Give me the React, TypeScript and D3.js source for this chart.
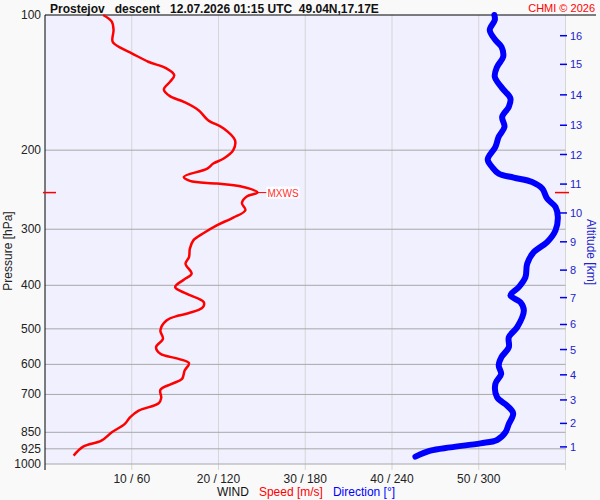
import * as d3 from "d3";

// speed profile: [pressure hPa, speed m/s]
const speedProfile: [number, number][] = [
  [100, 6.7], [103.5, 7.7], [108, 7.9], [114.7, 7.8], [118.7, 8.85], [121.7, 10.0],
  [127.1, 11.9], [131.5, 14.0], [136.1, 14.9], [140.9, 14.4], [146.5, 13.7], [151.6, 14.4],
  [156.1, 16.0], [162.9, 17.7], [171.5, 18.8], [178.9, 20.6], [190, 21.9], [200, 21.7],
  [208.8, 20.6], [214.2, 19.4], [219.8, 18.7], [229.4, 16.0], [234.2, 16.7], [237.4, 19.8],
  [240.7, 22.5], [248.6, 24.5], [253.3, 23.3], [262.2, 22.7], [272.2, 23.1], [282.6, 21.7],
  [294.1, 19.8], [305.9, 18.3], [317.6, 17.1], [331.4, 16.7], [346, 16.6], [358, 16.2],
  [376.9, 16.9], [388.6, 16.0], [403.7, 15.0], [417.6, 16.3], [436, 18.3], [447.4, 18.2],
  [462.8, 16.3], [466.9, 15.4], [479, 14.0], [504.2, 13.3], [526.2, 13.6], [549.4, 12.8],
  [568.3, 13.3], [583.1, 15.4], [596.4, 16.6], [619.3, 16.1], [646.2, 15.8], [663, 14.6],
  [683.8, 13.3], [712.4, 13.4], [732.5, 13.1], [760.5, 10.8], [787.1, 9.8], [814.2, 9.2],
  [850, 7.7], [887.1, 6.5], [914.9, 4.4], [958.2, 3.3],
];

// direction profile: [pressure hPa, direction deg]
const directionProfile: [number, number][] = [
  [100, 310.8], [102.6, 311.1], [108, 307.6], [113.7, 311.5], [117.7, 315.7], [123.9, 316.9],
  [130.4, 312.7], [137.3, 311.1], [145.5, 316.2], [153.4, 321.9], [160.2, 320.8], [168.6, 316.2],
  [177.5, 317.8], [186.8, 313.8], [196.7, 311.5], [209.8, 306.2], [218, 309.2], [225.5, 313.8],
  [230.2, 324.2], [235.4, 336.9], [243.5, 343.9], [256.4, 347.3], [267.7, 353.1], [281.8, 354.7],
  [301.7, 353.1], [320.4, 347.3], [337.3, 338.1], [358, 333.5], [383.5, 332.3], [403.7, 327.7],
  [421.3, 321.9], [436, 328.8], [455, 331.2], [495.7, 326.6], [521.9, 320.8], [549.4, 320.8],
  [578.4, 315.7], [603.4, 313.8], [629.8, 315.5], [663, 311.5], [710.2, 312.7], [741.2, 319.6],
  [771.1, 323.8], [814.2, 320.8], [850, 318.5], [884, 312.7], [899.5, 301.2], [918.2, 280.4],
  [933.8, 266.5], [963, 256.2],
];

const pressureTicks = [100, 200, 300, 400, 500, 600, 700, 850, 925, 1000];
const speedTicks = [10, 20, 30, 40, 50];
const directionTicks = [60, 120, 180, 240, 300];

// altitude km -> pressure hPa at that level in this sounding
const altitudeKm = [1, 2, 3, 4, 5, 6, 7, 8, 9, 10, 11, 12, 13, 14, 15, 16];
const altitudePressure = [916, 812, 720, 633, 556, 489, 426, 370, 320, 276, 238, 204.5, 176, 150.6, 128.8, 111.2];

const title = "Prostejov   descent   12.07.2026 01:15 UTC  49.04N,17.17E";
const font = "'Liberation Sans', Arial, sans-serif";

export default function App() {
  const width = 600;
  const height = 500;
  const left = 45;
  const right = 565.5;
  const top = 15;
  const bottom = 464;

  const y = d3.scaleLog().domain([100, 1000]).range([top, bottom]);
  const xSpeed = d3.scaleLinear().domain([0, 60]).range([left, right]);
  const xDir = d3.scaleLinear().domain([0, 360]).range([left, right]);

  const speedLine = d3
    .line<[number, number]>()
    .x((d) => xSpeed(d[1]))
    .y((d) => y(d[0]))
    .curve(d3.curveCatmullRom);
  const dirLine = d3
    .line<[number, number]>()
    .x((d) => xDir(d[1]))
    .y((d) => y(d[0]))
    .curve(d3.curveCatmullRom);

  const maxWind = speedProfile.reduce((a, b) => (b[1] > a[1] ? b : a));
  const mxX = xSpeed(maxWind[1]);
  const mxY = y(maxWind[0]);

  return (
    <div style={{ position: "fixed", left: 0, top: 0 }}>
      <svg width={width} height={height} style={{ display: "block", fontFamily: font }}>
        <rect width={width} height={height} fill="#f9f9f9" />
        <rect x={left} y={top} width={right - left} height={bottom - top} fill="#f0f0fe" />

        {/* vertical grid */}
        {speedTicks.map((t, i) => (
          <g key={t}>
            <line x1={xSpeed(t)} x2={xSpeed(t)} y1={top} y2={470} stroke="#d6d6d6" />
            <text x={xSpeed(t)} y={483} textAnchor="middle" fontSize={12} fill="#222">
              {`${t} / ${directionTicks[i]}`}
            </text>
          </g>
        ))}
        <line x1={right} x2={right} y1={top} y2={470} stroke="#d6d6d6" />

        {/* pressure grid */}
        {pressureTicks.map((p) => (
          <g key={p}>
            {p !== 100 && (
              <line x1={left} x2={right} y1={y(p)} y2={y(p)} stroke="#a8a8a8" />
            )}
            <text x={41} y={y(p) + 4} textAnchor="end" fontSize={12} fill="#222">
              {p}
            </text>
          </g>
        ))}

        <line x1={left} x2={left} y1={top} y2={470} stroke="#000" />
        <line x1={left} x2={596} y1={top} y2={top} stroke="#000" />

        {/* altitude axis */}
        {altitudeKm.map((a, i) => (
          <g key={a}>
            <line x1={560} x2={567} y1={y(altitudePressure[i])} y2={y(altitudePressure[i])} stroke="#0000ee" strokeWidth={1.5} />
            <text x={570} y={y(altitudePressure[i]) + 4} fontSize={11} fill="#2222cc">
              {a}
            </text>
          </g>
        ))}

        {/* MXWS markers */}
        <line x1={43} x2={56} y1={mxY} y2={mxY} stroke="#ff0000" strokeWidth={1.5} />
        <line x1={555} x2={569} y1={mxY} y2={mxY} stroke="#ff0000" strokeWidth={1.5} />

        <path d={dirLine(directionProfile) ?? ""} fill="none" stroke="#0000ff" strokeWidth={6} strokeLinecap="round" strokeLinejoin="round" />
        <path d={speedLine(speedProfile) ?? ""} fill="none" stroke="#ff0000" strokeWidth={2.5} strokeLinejoin="round" />

        <line x1={mxX} x2={mxX + 9} y1={mxY} y2={mxY} stroke="#ff0000" />
        <rect x={mxX + 9} y={mxY - 6} width={33} height={12} fill="#fff" />
        <text x={mxX + 10} y={mxY + 4} fontSize={10} fill="#ff3030">
          MXWS
        </text>

        {/* titles */}
        <text x={50} y={13} fontSize={12} fontWeight="bold" fill="#111" style={{ whiteSpace: "pre" }}>
          {title}
        </text>
        <text x={595} y={12} textAnchor="end" fontSize={11} fill="#ff0000">
          CHMI © 2026
        </text>
        <text transform="translate(12,251) rotate(-90)" textAnchor="middle" fontSize={12} fill="#222">
          Pressure [hPa]
        </text>
        <text transform="translate(587,252) rotate(90)" textAnchor="middle" fontSize={12} fill="#2222cc">
          Altitude [km]
        </text>
        <text x={306} y={496} textAnchor="middle" fontSize={12} style={{ whiteSpace: "pre" }}>
          <tspan fill="#111">WIND   </tspan>
          <tspan fill="#ff0000">Speed [m/s]</tspan>
          <tspan fill="#0000ff">   Direction [°]</tspan>
        </text>
      </svg>
    </div>
  );
}
